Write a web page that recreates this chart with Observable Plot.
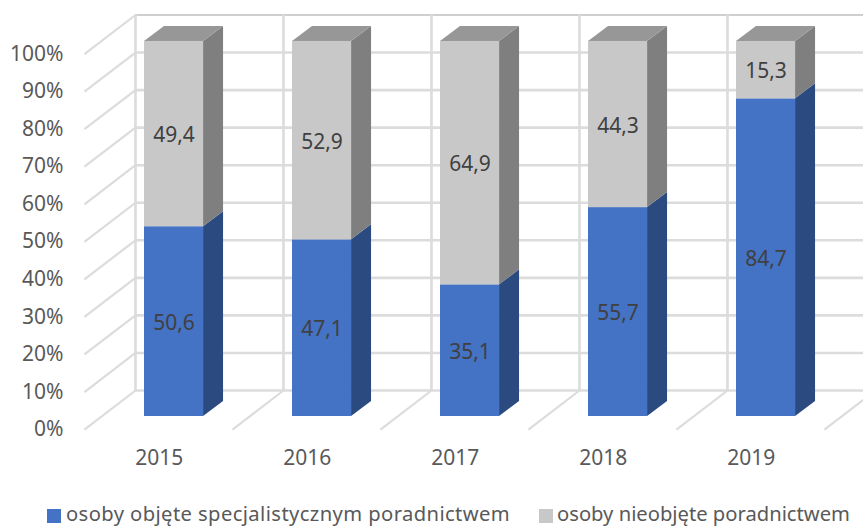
<!DOCTYPE html>
<html lang="pl">
<head>
<meta charset="utf-8">
<script src="https://cdn.jsdelivr.net/npm/d3@7"></script>
<script src="https://cdn.jsdelivr.net/npm/@observablehq/plot@0.6"></script>
<style>
  html, body { margin: 0; padding: 0; background: #fff; overflow: hidden; }
  #chart svg { display: block; }
  #legend { position: relative; height: 26px; font: 20.2px "Noto Sans", sans-serif; color: #595959; }
  #legend .item { position: absolute; top: 0; line-height: 26px; white-space: nowrap; }
  #legend .sw { display: inline-block; width: 14px; height: 14px; vertical-align: -2px; }
</style>
</head>
<body>
<div id="chart"></div>
<div id="legend"></div>
<script>
const years = [2015, 2016, 2017, 2018, 2019];
const covered = [50.6, 47.1, 35.1, 55.7, 84.7];
const notCovered = [49.4, 52.9, 64.9, 44.3, 15.3];
const yTicks = [0, 10, 20, 30, 40, 50, 60, 70, 80, 90, 100];
const seriesNames = ["osoby objęte specjalistycznym poradnictwem", "osoby nieobjęte poradnictwem"];

const blue = "#4472C4", blueSide = "#2A4A80";
const grey = "#C8C8C8", greySide = "#7F7F7F", greyTop = "#979797";
const gridColor = "#DCDCDC", wallTop = "#BFBFBF";

// Oblique projection offsets, in data units (years, percentage points)
const wallX = -0.167, floorDX = 0.345, floorDY = 10.4;
const barL = -0.106, barR = 0.293, barDX = 0.135, barDY = 4, barBase = -6.92, barK = 0.9987;

const width = 863, height = 500, marginLeft = 63, marginTop = 14.5, marginBottom = height - 390;
const xAt = px => 2015 + (px - 159.7) / 148;

const segments = years.flatMap((year, i) => [
  {year, from: 0, to: covered[i], value: covered[i], front: blue, side: blueSide},
  {year, from: covered[i], to: 100, value: notCovered[i], front: grey, side: greySide}
]);
const sideRows = segments.flatMap((s, k) => [0, 1].map(t => ({
  k, side: s.side,
  x: s.year + barR + t * barDX,
  y1: barBase + s.from * barK + t * barDY,
  y2: barBase + s.to * barK + t * barDY
})));
const topRows = years.flatMap(year => [0, 1].map(t => ({
  year,
  y: barBase + 100 * barK + t * barDY,
  x1: year + barL + t * barDX,
  x2: year + barR + t * barDX
})));
const walls = [...years, 2020].map(y => y + wallX);
const fmt = v => String(v).replace(".", ",");

const plot = Plot.plot({
  width, height, marginLeft, marginRight: 0, marginTop, marginBottom,
  style: {background: "#fff", fontFamily: "'Noto Sans', sans-serif", overflow: "hidden"},
  x: {type: "linear", domain: [xAt(marginLeft), xAt(width)]},
  y: {domain: [0, 100]},
  marks: [
    // back wall grid
    Plot.ruleY(yTicks.filter(v => v < 100), {x1: walls[0], x2: xAt(width), stroke: gridColor, strokeWidth: 2.6}),
    Plot.ruleY([100], {x1: walls[0], x2: xAt(width), stroke: wallTop, strokeWidth: 1.6}),
    Plot.ruleX(walls, {y1: 0, y2: 100, stroke: gridColor, strokeWidth: 2.6}),
    // left side wall
    Plot.link(yTicks, {
      x1: walls[0] - floorDX, y1: v => v - floorDY,
      x2: walls[0], y2: v => v,
      stroke: gridColor, strokeWidth: 2.2
    }),
    // floor
    Plot.link(walls.slice(1), {
      x1: w => w - floorDX, y1: -floorDY,
      x2: w => w, y2: 0,
      stroke: gridColor, strokeWidth: 2.2
    }),
    // bars
    Plot.areaY(sideRows, {x: "x", y1: "y1", y2: "y2", z: "k", fill: "side", curve: "linear"}),
    Plot.areaX(topRows, {y: "y", x1: "x1", x2: "x2", z: "year", fill: greyTop, curve: "linear"}),
    Plot.rect(segments, {
      x1: s => s.year + barL, x2: s => s.year + barR,
      y1: s => barBase + s.from * barK, y2: s => barBase + s.to * barK,
      fill: "front", inset: 0
    }),
    Plot.text(segments, {
      x: s => s.year + (barL + barR) / 2,
      y: s => barBase + (s.from + s.to) / 2 * barK,
      text: s => fmt(s.value),
      fill: "#404040", fontSize: 21, dy: 1.5
    }),
    // axes
    Plot.axisY(yTicks, {
      anchor: "left", tickSize: 0, tickPadding: 0, dy: 39,
      tickFormat: v => v + "%", fontSize: 21, color: "#595959", label: null
    }),
    Plot.axisX(years, {
      anchor: "bottom", tickSize: 0, tickPadding: 0, dy: 59.5, dx: -1,
      tickFormat: d => String(d), fontSize: 21, color: "#595959", label: null
    })
  ]
});
document.getElementById("chart").append(plot);

const legend = document.getElementById("legend");
[[47, blue, 5, 0.4], [539, grey, 4, 0]].forEach(([left, color, gap, spacing], i) => {
  const item = document.createElement("div");
  item.className = "item";
  item.style.left = left + "px";
  item.style.letterSpacing = spacing + "px";
  const sw = document.createElement("span");
  sw.className = "sw";
  sw.style.background = color;
  sw.style.marginRight = gap + "px";
  item.append(sw, seriesNames[i]);
  legend.append(item);
});
</script>
</body>
</html>
